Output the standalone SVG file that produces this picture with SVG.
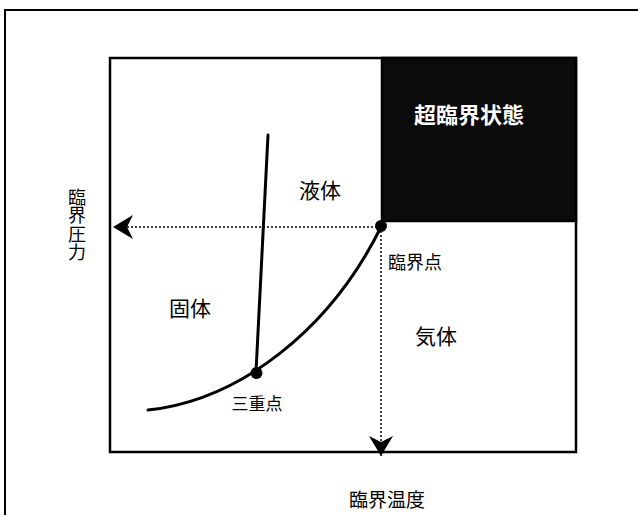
<svg xmlns="http://www.w3.org/2000/svg" width="638" height="515" viewBox="0 0 638 515">
  <style>
    .lbl { font-family: "Noto Sans CJK JP", "Noto Sans CJK SC", sans-serif; fill: #000; text-anchor: middle; }
    .frame { fill: none; stroke: #000; }
    .curve { fill: none; stroke: #000; stroke-width: 3; stroke-linecap: round; }
    .dotted { fill: none; stroke: #000; stroke-width: 1.5; stroke-dasharray: 2 2; }
    .pt { fill: #000; }
  </style>
  <defs>
    <marker id="arrow" markerUnits="userSpaceOnUse" viewBox="0 0 20 24" markerWidth="20" markerHeight="24" refX="20" refY="12" orient="auto">
      <path d="M0,0 L20,12 L0,24 L6,12 Z" fill="#000" stroke="none"/>
    </marker>
  </defs>
  <rect width="638" height="515" fill="#fff"/>

  <g id="outer-frame">
    <path class="frame" stroke-width="2" d="M5,515 V10 H638"/>
  </g>

  <g id="plot-box">
    <rect class="frame" stroke-width="2.5" x="110" y="58" width="466" height="394"/>
  </g>

  <g id="supercritical">
    <rect x="382" y="58" width="194" height="163" fill="#0b0b0b" stroke="#000" stroke-width="2.5"/>
    <text class="lbl" x="469" y="123" font-size="22" style="fill:#fff;stroke:#000;stroke-width:0.6;paint-order:stroke" font-weight="bold">超臨界状態</text>
  </g>

  <g id="connectors">
    <path id="melting-line" class="curve" d="M256,372 L268,135"/>
    <path id="vapor-curve" class="curve" d="M148,410 C240,400 330,330 381,227"/>
    <path id="pressure-guide" class="dotted" d="M381,227 H113" marker-end="url(#arrow)"/>
    <path id="temperature-guide" class="dotted" d="M381,227 V456" marker-end="url(#arrow)"/>
  </g>

  <g id="critical-point">
    <circle class="pt" cx="381" cy="226" r="6"/>
    <text class="lbl" x="415" y="269" font-size="18">臨界点</text>
  </g>

  <g id="triple-point">
    <circle class="pt" cx="256.5" cy="373" r="6"/>
    <text class="lbl" x="257" y="410" font-size="17">三重点</text>
  </g>

  <g id="liquid">
    <text class="lbl" x="320" y="198" font-size="21">液体</text>
  </g>
  <g id="solid">
    <text class="lbl" x="190" y="316" font-size="21">固体</text>
  </g>
  <g id="gas">
    <text class="lbl" x="436" y="344" font-size="21">気体</text>
  </g>

  <g id="critical-pressure-label">
    <text class="lbl" x="77" y="225" font-size="18" style="writing-mode: vertical-rl" letter-spacing="0.5">臨界圧力</text>
  </g>

  <g id="critical-temperature-label">
    <text class="lbl" x="387" y="507" font-size="19">臨界温度</text>
  </g>
</svg>
